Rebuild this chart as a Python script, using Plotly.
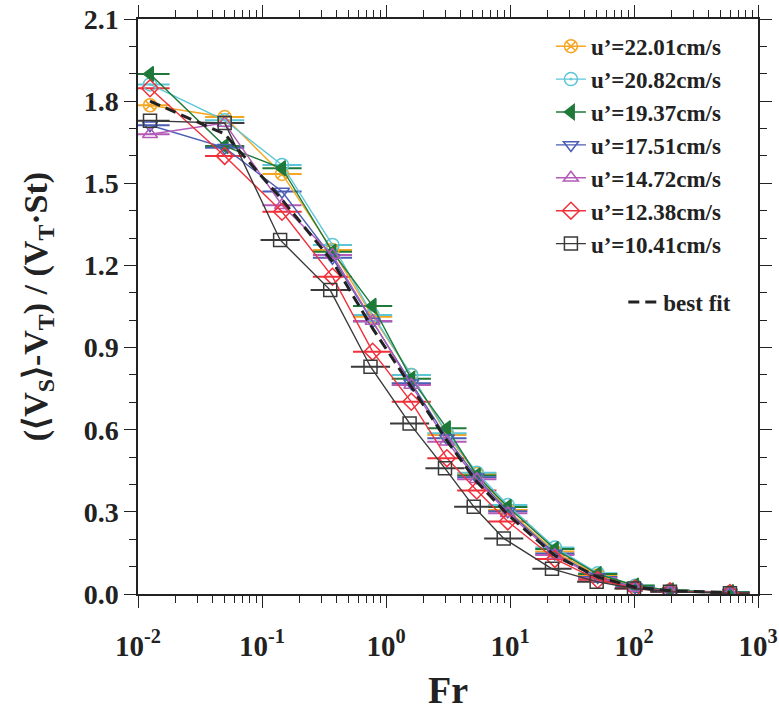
import plotly.graph_objects as go

# ---- data ----
fr = [0.0125, 0.05, 0.145, 0.37, 0.78, 1.6, 3.1, 5.4, 9.6, 23, 51, 102, 195, 594]
fr_black = [0.0125, 0.05, 0.14, 0.355, 0.75, 1.55, 2.99, 5.1, 8.9, 21.8, 50, 100, 195, 594]

u2201 = [1.785, 1.742, 1.534, 1.256, 1.013, 0.800, 0.581, 0.438, 0.307, 0.155, 0.068, 0.028, 0.012, 0.006]
u2082 = [1.861, 1.730, 1.567, 1.275, 1.019, 0.800, 0.587, 0.443, 0.325, 0.170, 0.076, 0.030, 0.013, 0.006]
u1937 = [1.899, 1.636, 1.555, 1.250, 1.052, 0.786, 0.605, 0.433, 0.318, 0.164, 0.073, 0.031, 0.013, 0.007]
u1751 = [1.712, 1.630, 1.470, 1.228, 0.995, 0.770, 0.569, 0.426, 0.302, 0.148, 0.062, 0.025, 0.011, 0.005]
u1472 = [1.679, 1.720, 1.420, 1.238, 0.997, 0.763, 0.556, 0.419, 0.295, 0.142, 0.058, 0.022, 0.008, 0.004]
u1238 = [1.847, 1.600, 1.396, 1.159, 0.885, 0.702, 0.496, 0.378, 0.265, 0.128, 0.052, 0.020, 0.010, 0.004]
u1041 = [1.728, 1.720, 1.293, 1.110, 0.830, 0.623, 0.459, 0.319, 0.203, 0.092, 0.045, 0.020, 0.008, 0.003]
fit = [1.80, 1.68, 1.44, 1.215, 0.97, 0.755, 0.56, 0.41, 0.29, 0.14, 0.062, 0.025, 0.012, 0.005]

names = ["u’=22.01cm/s", "u’=20.82cm/s", "u’=19.37cm/s", "u’=17.51cm/s",
         "u’=14.72cm/s", "u’=12.38cm/s", "u’=10.41cm/s"]
series = [u2201, u2082, u1937, u1751, u1472, u1238, u1041]
xs = [fr, fr, fr, fr, fr, fr, fr_black]
colors = ["#F5A623", "#5CC6D6", "#1F7A3A", "#4B5DB4", "#B45AB8", "#F0303A", "#3A3A3A"]
symbols = ["circle-x-open", "circle-open-dot", "triangle-left", "triangle-down-open",
           "triangle-up-open", "diamond-open", "square-open"]

xtick_vals = [0.01, 0.1, 1, 10, 100, 1000]
xtick_text = ["10<sup>-2</sup>", "10<sup>-1</sup>", "10<sup>0</sup>",
              "10<sup>1</sup>", "10<sup>2</sup>", "10<sup>3</sup>"]
xminor_vals = [k * 10.0 ** e for e in range(-2, 3) for k in range(2, 10)]

FONT = "Liberation Serif"
INK = "#222222"

fig = go.Figure()

# horizontal bars through markers
for x, y, c in zip(xs, series, colors):
    fig.add_trace(go.Scatter(
        x=x, y=y, mode="markers", showlegend=False, hoverinfo="skip",
        marker=dict(symbol="line-ew", size=28, line=dict(color=c, width=2))))

for x, y, n, c, s in zip(xs, series, names, colors, symbols):
    fig.add_trace(go.Scatter(
        x=x, y=y, mode="lines+markers", name=n, legendgroup=n,
        line=dict(color=c, width=1.4),
        marker=dict(symbol=s, size=13, color=c, line=dict(color=c, width=1.5))))

fig.add_trace(go.Scatter(
    x=fr, y=fit, mode="lines", name="best fit", legend="legend2",
    line=dict(color=INK, width=3, dash="11px,6px")))

axis_common = dict(
    showline=True, linecolor=INK, linewidth=1.5, mirror="allticks",
    ticks="outside", ticklen=12, tickwidth=1.3, tickcolor=INK,
    showgrid=False, zeroline=False, automargin=False,
)

fig.update_xaxes(
    type="log", range=[-2, 3], tickvals=xtick_vals, ticktext=xtick_text,
    minor=dict(tickvals=xminor_vals, ticks="outside", ticklen=7, tickwidth=1.2,
               tickcolor=INK, showgrid=False),
    tickfont=dict(family=FONT, size=29, color=INK, weight="bold"),
    ticklabelstandoff=13,
    title=dict(text="<b>Fr</b>", font=dict(family=FONT, size=38, color=INK), standoff=16),
    **axis_common)

fig.update_yaxes(
    range=[0, 2.1], tickmode="linear", tick0=0, dtick=0.3, tickformat=".1f",
    minor=dict(dtick=0.1, tick0=0, ticks="outside", ticklen=7, tickwidth=1.2,
               tickcolor=INK, showgrid=False),
    tickfont=dict(family=FONT, size=28, color=INK, weight="bold"),
    title=dict(text="<b>(⟨V<sub>S</sub>⟩-V<sub>T</sub>) / (V<sub>T</sub>·St)</b>",
               font=dict(family=FONT, size=34, color=INK), standoff=26),
    **axis_common)

fig.update_layout(
    width=779, height=713,
    margin=dict(l=138, r=21, t=19, b=119),
    paper_bgcolor="white", plot_bgcolor="white",
    legend=dict(x=0.666, y=0.99, xanchor="left", yanchor="top",
                bgcolor="rgba(0,0,0,0)", tracegroupgap=0,
                font=dict(family=FONT, size=23, color=INK, weight="bold")),
    legend2=dict(x=0.965, y=0.545, xanchor="right", yanchor="top",
                 bgcolor="rgba(0,0,0,0)",
                 font=dict(family=FONT, size=23, color=INK, weight="bold")),
)

fig.write_html("out.html")
